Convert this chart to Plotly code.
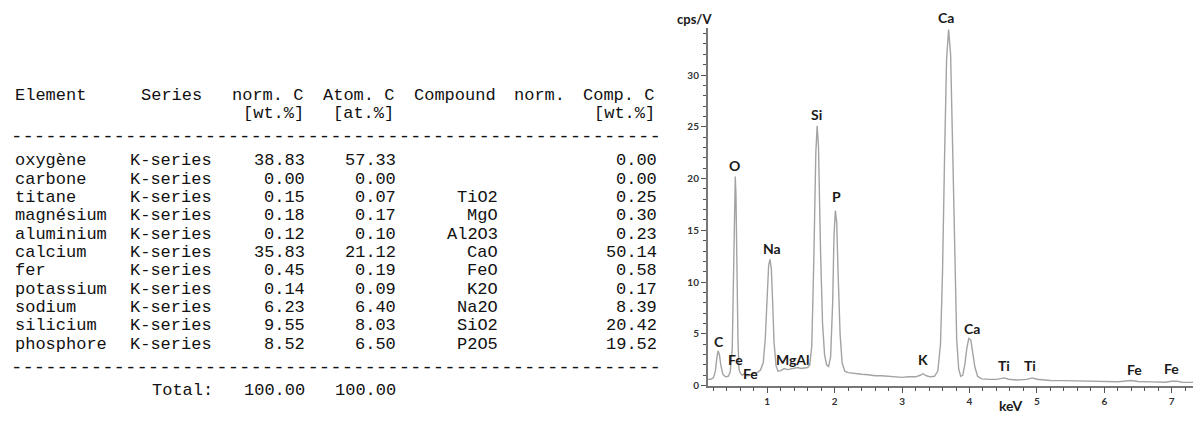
import plotly.graph_objects as go

elements = ["oxygène", "carbone", "titane", "magnésium", "aluminium", "calcium",
            "fer", "potassium", "sodium", "silicium", "phosphore"]
series = ["K-series"] * 11
norm_c = [38.83, 0.00, 0.15, 0.18, 0.12, 35.83, 0.45, 0.14, 6.23, 9.55, 8.52]
atom_c = [57.33, 0.00, 0.07, 0.17, 0.10, 21.12, 0.19, 0.09, 6.40, 8.03, 6.50]
compounds = ["", "", "TiO2", "MgO", "Al2O3", "CaO", "FeO", "K2O", "Na2O", "SiO2", "P2O5"]
comp_c = [0.00, 0.00, 0.25, 0.30, 0.23, 50.14, 0.58, 0.17, 8.39, 20.42, 19.52]
total_norm = 100.00
total_atom = 100.00

header_top = ["Element", "Series", "norm. C", "Atom. C", "Compound", "norm.", "Comp. C"]
header_unit = ["[wt.%]", "[at.%]", "[wt.%]"]

# ---- EDX spectrum ----
energy_kev = [0.12, 0.16, 0.20, 0.23, 0.25, 0.27, 0.29, 0.31, 0.34, 0.38, 0.42, 0.45,
              0.48, 0.50, 0.515, 0.525, 0.535, 0.55, 0.565, 0.58, 0.60, 0.63, 0.66,
              0.70, 0.74, 0.80, 0.86, 0.90, 0.94, 0.97, 1.00, 1.02, 1.04, 1.06, 1.08,
              1.10, 1.13, 1.16, 1.20, 1.25, 1.30, 1.35, 1.40, 1.45, 1.50, 1.55, 1.60,
              1.63, 1.66, 1.69, 1.72, 1.74, 1.76, 1.79, 1.82, 1.85, 1.88, 1.91, 1.94,
              1.97, 1.99, 2.01, 2.03, 2.05, 2.08, 2.11, 2.15, 2.20, 2.30, 2.40, 2.50,
              2.60, 2.70, 2.80, 2.90, 3.00, 3.10, 3.20, 3.27, 3.31, 3.36, 3.42, 3.48,
              3.53, 3.57, 3.60, 3.63, 3.66, 3.69, 3.72, 3.75, 3.78, 3.81, 3.84, 3.87,
              3.90, 3.93, 3.96, 3.99, 4.02, 4.05, 4.08, 4.12, 4.18, 4.30, 4.40, 4.48,
              4.52, 4.58, 4.70, 4.85, 4.93, 5.00, 5.20, 5.40, 5.60, 5.80, 6.00, 6.20,
              6.40, 6.50, 6.70, 6.90, 7.00, 7.08, 7.15, 7.30, 7.42]
cps = [0.60, 0.62, 0.75, 1.4, 2.6, 3.35, 3.0, 2.0, 1.1, 0.85, 0.9, 1.3,
       3.5, 10.5, 18.0, 20.2, 18.5, 11.0, 4.5, 1.6, 1.2, 1.0, 1.15,
       0.95, 1.0, 1.15, 1.3, 1.5, 2.2, 4.5, 9.0, 11.6, 12.2, 11.3, 8.0,
       4.2, 1.9, 1.4, 1.45, 1.65, 1.55, 1.6, 1.7, 1.75, 1.65, 1.7, 1.75,
       2.0, 3.8, 12.0, 22.5, 25.1, 23.0, 13.0, 6.0, 3.0, 2.0, 1.85, 2.8,
       8.0, 14.5, 16.9, 15.8, 11.0, 5.0, 2.2, 1.4, 1.25, 1.15, 1.1, 1.05,
       0.95, 0.95, 0.9, 0.85, 0.8, 0.85, 0.85, 1.0, 1.15, 0.95, 0.85, 0.9,
       1.4, 4.0, 11.0, 22.0, 31.5, 34.4, 32.0, 23.0, 12.0, 4.5, 1.6, 0.9,
       1.0, 2.0, 3.6, 4.55, 4.4, 3.2, 1.8, 0.9, 0.65, 0.6, 0.6, 0.7,
       0.75, 0.62, 0.55, 0.6, 0.75, 0.62, 0.5, 0.48, 0.45, 0.42, 0.4, 0.38,
       0.5, 0.4, 0.36, 0.33, 0.42, 0.43, 0.33, 0.28, 0.30]

peak_labels = ["C", "O", "Fe", "Fe", "Na", "MgAl", "Si", "P", "K", "Ca", "Ca", "Ti", "Ti", "Fe", "Fe"]
peak_kev = [0.283, 0.521, 0.535, 0.754, 1.07, 1.381, 1.737, 2.034, 3.31, 3.65, 4.03, 4.516, 4.90, 6.445, 6.99]
peak_cps = [4.3, 21.3, 2.48, 1.21, 13.2, 2.54, 26.2, 18.3, 2.54, 35.6, 5.55, 1.93, 1.90, 1.59, 1.69]

W, H = 1201, 427
PAD = 8  # the page body margin pushes the figure 8px right and down
Y_TOP = 34.5
Y0_PX, PX_PER_CPS = 391, 10.5


def px(sx):
    return (sx - PAD) / W


def py(sy):
    return 1 - (sy - PAD) / H


fig = go.Figure()
fig.add_trace(go.Scatter(x=energy_kev, y=cps, mode="lines",
                         line=dict(color="#a3a3a3", width=1.4),
                         hoverinfo="skip", showlegend=False))
# dummy trace so the hidden table axes exist
fig.add_trace(go.Scatter(x=[100], y=[100], xaxis="x2", yaxis="y2", mode="markers",
                         marker=dict(opacity=0), hoverinfo="skip", showlegend=False))

lab_font = dict(family="Lato", size=14, color="#1a1a1a", weight="bold")
for t, xk, yc in zip(peak_labels, peak_kev, peak_cps):
    if yc <= Y_TOP:
        fig.add_annotation(x=xk, y=yc, text=t, showarrow=False, xref="x", yref="y",
                           xanchor="center", yanchor="middle", font=lab_font)
    else:
        # above the axis range: place on the same linear scale in paper units
        fig.add_annotation(x=xk, y=py(Y0_PX - yc * PX_PER_CPS), text=t, showarrow=False,
                           xref="x", yref="paper", xanchor="center", yanchor="middle",
                           font=lab_font)

fig.add_annotation(x=px(695), y=py(19), xref="paper", yref="paper", text="cps/V",
                   xanchor="center", yanchor="middle", showarrow=False,
                   font=dict(family="Lato", size=13, color="#1a1a1a", weight="bold"))
fig.add_annotation(x=px(1010), y=py(411), xref="paper", yref="paper", text="keV",
                   xanchor="center", yanchor="middle", showarrow=False,
                   font=dict(family="Lato", size=14, color="#1a1a1a", weight="bold"))

# ---- table as monospace text on hidden axes whose units are screen pixels ----
X0, CW = 12.7, 11.33
mono = dict(family="Liberation Mono", size=17, color="#111111")


def left(c):
    return X0 + c * CW


def right(c):
    return X0 + (c + 1) * CW


def mid(c0, c1):
    return (left(c0) + right(c1)) / 2


def cell(x, y, text, anchor, font=mono):
    fig.add_annotation(x=x, y=y, text=text, xref="x2", yref="y2", showarrow=False,
                       xanchor=anchor, yanchor="middle", font=font)


spans_top = [(0, 6), (11, 16), (19, 25), (27, 33), (35, 42), (44, 48), (50, 56)]
for k, (txt, (a, b)) in enumerate(zip(header_top, spans_top)):
    if k == 0:
        cell(left(0), 97, txt, "left")
    else:
        cell(mid(a, b), 97, txt, "center")
for txt, (a, b) in zip(header_unit, [(20, 25), (28, 33), (51, 56)]):
    cell(mid(a, b), 115, txt, "center")

dash_font = dict(family="Liberation Mono", size=19, color="#111111")
cell(mid(0, 56), 139, "-" * 57, "center", dash_font)

row0, pitch = 163, 18.6
for i in range(len(elements)):
    y = row0 + i * pitch
    cell(left(0), y, elements[i], "left")
    cell(mid(10, 17), y, series[i], "center")
    cell(right(25), y, f"{norm_c[i]:.2f}", "right")
    cell(right(33), y, f"{atom_c[i]:.2f}", "right")
    if compounds[i]:
        cell(right(42), y, compounds[i], "right")
    cell(right(56), y, f"{comp_c[i]:.2f}", "right")

y_end = row0 + (len(elements) - 1) * pitch
cell(mid(0, 56), y_end + 24, "-" * 57, "center", dash_font)
cell(mid(12, 17), y_end + 47, "Total:", "center")
cell(right(25), y_end + 47, f"{total_norm:.2f}", "right")
cell(right(33), y_end + 47, f"{total_atom:.2f}", "right")

tick_font = dict(family="Lato", size=10, color="#333333", weight="bold")
fig.update_layout(
    width=W, height=H, margin=dict(l=0, r=0, t=0, b=0),
    paper_bgcolor="white", plot_bgcolor="white",
    xaxis=dict(domain=[px(707.7), px(1200)], range=[0.116, 7.42], showgrid=False,
               zeroline=False, showline=True, linecolor="#777777", linewidth=1.5,
               tickmode="linear", tick0=0, dtick=1, ticks="outside", ticklen=6,
               tickcolor="#555555", tickfont=tick_font, anchor="y",
               minor=dict(dtick=0.2, tick0=0, ticks="outside", ticklen=4, tickcolor="#555555")),
    yaxis=dict(domain=[py(Y0_PX), py(Y0_PX - Y_TOP * PX_PER_CPS)], range=[0, Y_TOP],
               showgrid=False, zeroline=False, showline=True, linecolor="#777777", linewidth=1.5,
               tickmode="linear", tick0=0, dtick=5, ticks="outside", ticklen=5,
               tickcolor="#555555", tickfont=tick_font, anchor="x",
               minor=dict(dtick=1, tick0=0, ticks="outside", ticklen=3, tickcolor="#555555")),
    xaxis2=dict(domain=[0, 660 / W], range=[PAD, 660 + PAD], visible=False, anchor="y2"),
    yaxis2=dict(domain=[0, 1], range=[H + PAD, PAD], visible=False, anchor="x2"),
)

fig.write_html("out.html")
